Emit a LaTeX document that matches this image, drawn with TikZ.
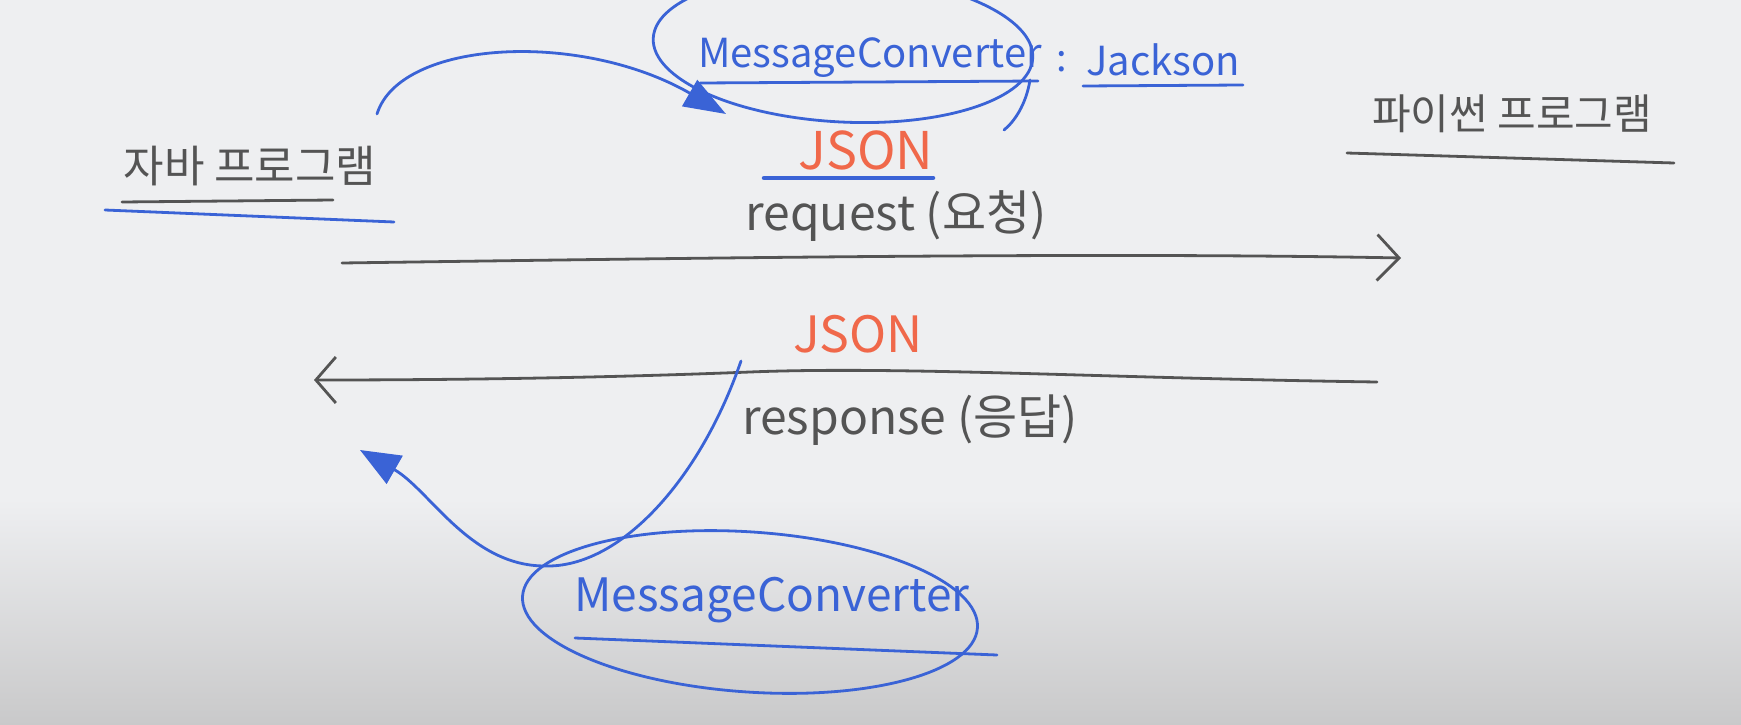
\documentclass[tikz,border=0pt]{standalone}
\usepackage{fontspec}
\setmainfont{Noto Sans CJK KR}
\usetikzlibrary{arrows.meta}
\definecolor{board}{HTML}{EEEFF1}
\definecolor{boarddark}{HTML}{C9C9CA}
\definecolor{ink}{HTML}{545454}
\definecolor{blueink}{HTML}{3A63D6}
\definecolor{redink}{HTML}{F0684A}
\tikzset{
  inktext/.style={text=ink, inner sep=0pt},
  bluetext/.style={text=blueink, inner sep=0pt},
  redtext/.style={text=redink, inner sep=0pt},
  grayline/.style={draw=ink, line width=2.8pt, line cap=round},
  blueline/.style={draw=blueink, line width=2.8pt, line cap=round},
}
\begin{document}
\begin{tikzpicture}[x=1pt,y=-1pt]
\useasboundingbox (0,0) rectangle (1741,725);
% whiteboard background
\fill[board] (0,0) rectangle (1741,500);
\shade[top color=board, bottom color=boarddark] (0,499) rectangle (1741,725);

% labels
\node[inktext, font=\fontsize{44}{44}\selectfont] (java) at (250,166) {자바 프로그램};
\node[inktext, font=\fontsize{42}{42}\selectfont] (python) at (1512,114) {파이썬 프로그램};
\draw[grayline] (122,202) -- (333,200);
\draw[blueline] (105,210) -- (394,222);
\draw[grayline] (1347,153) -- (1674,163);

% top converter
\node[bluetext, font=\fontsize{40}{40}\selectfont] (mctop) at (870,58) {MessageConverter};
\node[bluetext, font=\fontsize{38}{38}\selectfont] (colon) at (1062,62) {:};
\node[bluetext, font=\fontsize{40}{40}\selectfont] (jackson) at (1163,60) {Jackson};
\draw[blueline] (700,83) -- (1038,81);
\draw[blueline] (1083,86) -- (1243,85);
\draw[blueline, rotate around={-3:(843,48)}] (843,48) ellipse [x radius=190pt, y radius=74pt];
\draw[blueline] (1030,80) .. controls (1026,105) and (1014,122) .. (1004,130);

% top arrow
\coordinate (ts) at (377,114);
\coordinate (te) at (726,114);
\draw[blueline, -{Triangle[length=42pt,width=30pt]}] (ts) .. controls (400,40) and (580,30) .. (te);

% request
\node[redtext, font=\fontsize{52}{52}\selectfont] (json1) at (866,150) {JSON};
\draw[draw=blueink, line width=4.5pt, line cap=round] (764,178) -- (933,178);
\node[inktext, font=\fontsize{48}{48}\selectfont] (req) at (896,216) {request (요청)};
\coordinate (rqs) at (342,263);
\coordinate (rqe) at (1401,258);
\draw[grayline, -{Straight Barb[length=22pt,width=46pt,line width=2.8pt]}] (rqs) .. controls (700,258) and (1100,252) .. (rqe);

% response
\node[redtext, font=\fontsize{50}{50}\selectfont] (json2) at (858,334) {JSON};
\coordinate (rps) at (1377,382);
\coordinate (rpe) at (314,380);
\draw[grayline, -{Straight Barb[length=20pt,width=46pt,line width=2.8pt]}] (rps) .. controls (1100,378) and (900,366) .. (750,372) .. controls (600,378) and (450,380) .. (rpe);
\node[inktext, font=\fontsize{48}{48}\selectfont] (resp) at (910,420) {response (응답)};

% bottom converter
\node[bluetext, font=\fontsize{46}{46}\selectfont] (mcbot) at (772,600) {MessageConverter};
\draw[blueline] (575,638) -- (997,655);
\draw[blueline, rotate around={-4:(750,612)}] (750,612) ellipse [x radius=228pt, y radius=80pt];

% bottom arrow
\coordinate (bs) at (741,361);
\coordinate (bm) at (545,566);
\coordinate (be) at (360,450);
\draw[blueline, -{Triangle[length=40pt,width=32pt]}] (bs) .. controls (700,480) and (620,568) .. (bm) .. controls (470,566) and (430,490) .. (be);
\end{tikzpicture}
\end{document}
